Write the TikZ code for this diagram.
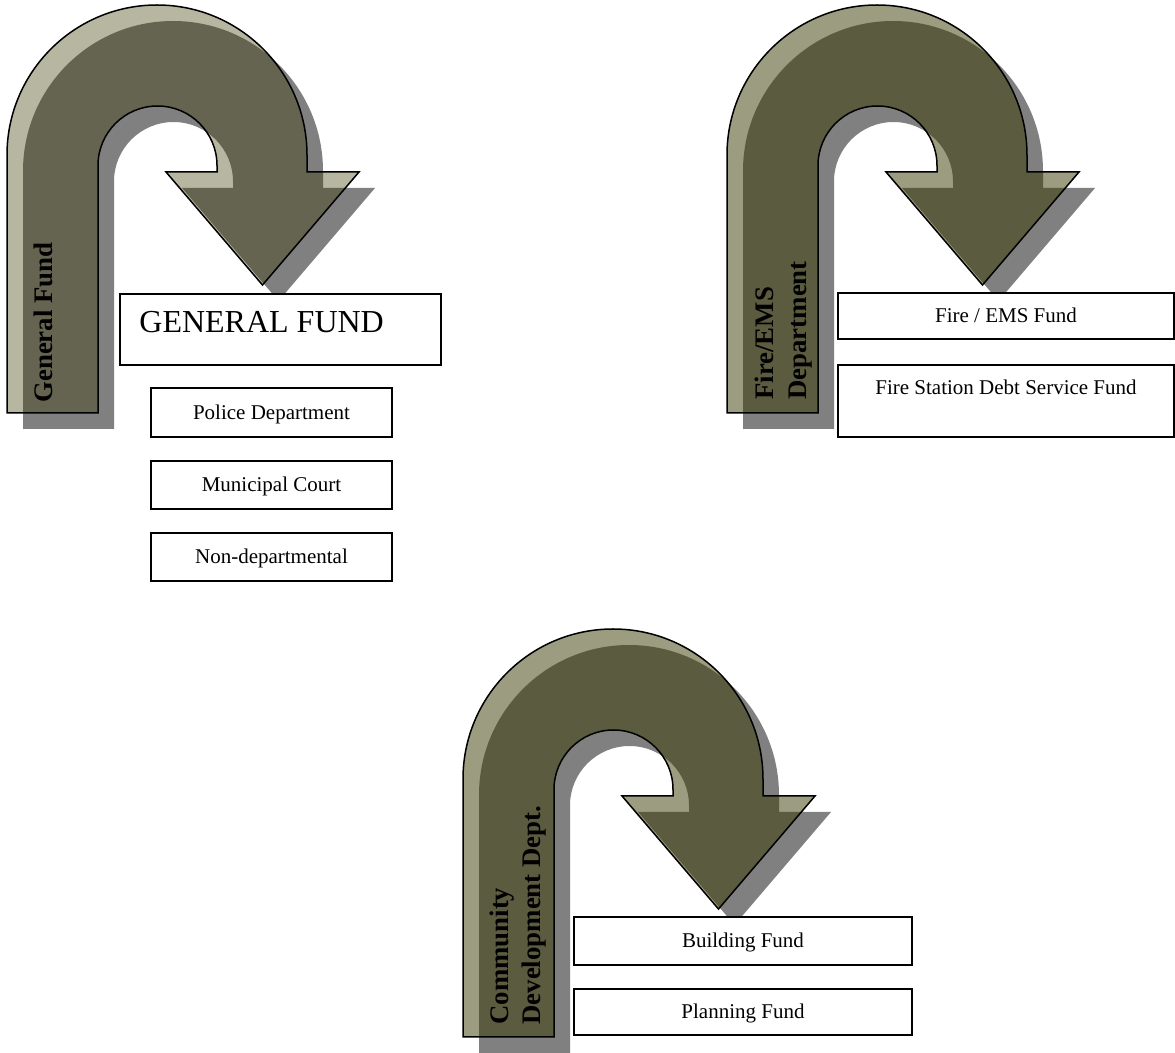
\documentclass[tikz,border=0pt]{standalone}
\usepackage{fontspec}
\setmainfont{Liberation Serif}
\definecolor{shadowgray}{HTML}{808080}
\definecolor{lightA}{HTML}{B6B6A1}
\definecolor{darkA}{HTML}{646451}
\definecolor{lightB}{HTML}{9C9C80}
\definecolor{darkB}{HTML}{5B5B40}
\tikzset{
  fbox/.style={draw, line width=1pt, fill=white, inner sep=0pt,
    text height=7.5pt, text depth=0.5pt, font=\fontsize{10.5}{12}\selectfont},
  plaintext/.style={inner sep=0pt, font=\fontsize{10.5}{12}\selectfont},
  vlabel/.style={rotate=90, anchor=base west, inner sep=0pt,
    font=\fontsize{13.4}{15}\selectfont\bfseries},
  outline/.style={draw=black, line width=0.75pt, line join=miter},
}
\newcommand\uturnshape{(7,413) -- (7,155) arc[start angle=180,end angle=0,radius=75pt] -- (307,172) -- (359,172) -- (262.5,285) -- (166,172) -- (217,172) -- (217,165.5) arc[start angle=0,end angle=180,radius=29.75pt] -- (98,413) -- cycle}
\newcommand\uturnarrow[4]{%
  \begin{scope}[shift={(#1,#2)}]
    \fill[shadowgray, shift={(16,16)}] \uturnshape;
    \fill[#3] \uturnshape;
    \begin{scope}
      \clip \uturnshape;
      \fill[#4, shift={(16,16)}] \uturnshape;
    \end{scope}
    \path[outline] \uturnshape;
  \end{scope}}
\begin{document}
\begin{tikzpicture}[x=0.5pt, y=-0.5pt]
  \useasboundingbox (0,0) rectangle (1175,1053);
  \fill[white] (0,0) rectangle (1175,1053);

  % arrows
  \uturnarrow{0}{0}{lightA}{darkA}
  \uturnarrow{720}{0}{lightB}{darkB}
  \uturnarrow{456}{624}{lightB}{darkB}

  % arrow labels
  \node[vlabel] (lblgf) at (53,403) {General Fund};
  \node[vlabel] (lblfire) at (773,400) {Fire/EMS};
  \node[vlabel] (lbldept) at (806,400) {Department};
  \node[vlabel] (lblcomm) at (508,1025) {Community};
  \node[vlabel] (lbldev) at (540.5,1025) {Development Dept.};

  % General fund group
  \node[fbox, minimum width=160.5pt, minimum height=35.5pt, anchor=north west] (gfbox) at (119,293) {};
  \node[anchor=base west, inner sep=0pt, font=\fontsize{16}{19}\selectfont] (gftext) at (139,333) {GENERAL FUND};
  \node[fbox, minimum width=120.5pt, minimum height=24.5pt] (police) at (271.5,412.5) {Police Department};
  \node[fbox, minimum width=120.5pt, minimum height=24pt] (court) at (271.5,485) {Municipal Court};
  \node[fbox, minimum width=120.5pt, minimum height=24pt] (nondep) at (271.5,557) {Non-departmental};

  % Fire group
  \node[fbox, minimum width=168pt, minimum height=23pt] (firefund) at (1006,316) {Fire / EMS Fund};
  \node[fbox, minimum width=168pt, minimum height=36pt] (debtbox) at (1006,401) {};
  \node[plaintext, anchor=base] (debttext) at (1006,395) {Fire Station Debt Service Fund};

  % Community development group
  \node[fbox, minimum width=169pt, minimum height=24pt] (building) at (743,941) {Building Fund};
  \node[fbox, minimum width=169pt, minimum height=23pt] (planning) at (743,1012) {Planning Fund};
\end{tikzpicture}
\end{document}
